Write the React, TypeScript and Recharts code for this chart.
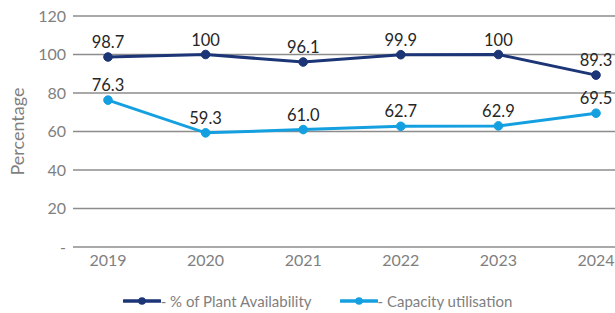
import React from 'react';
import { LineChart, Line, XAxis, YAxis, CartesianGrid, Legend, LabelList } from 'recharts';

const years = ['2019', '2020', '2021', '2022', '2023', '2024'];
const plantAvailability = [98.7, 100, 96.1, 99.9, 100, 89.3];
const capacityUtilisation = [76.3, 59.3, 61.0, 62.7, 62.9, 69.5];
const yTicks = [0, 20, 40, 60, 80, 100, 120];

const NAVY = '#1b3576';
const SKY = '#14a0e0';
const GREY = '#7f7f7f';
const FONT = 'Lato, "Open Sans", sans-serif';

const data = years.map((year, i) => ({
  year,
  availability: plantAvailability[i],
  capacity: capacityUtilisation[i],
}));

const legendItems = [
  { label: '- % of Plant Availability', color: NAVY },
  { label: '- Capacity utilisation', color: SKY },
];

const renderLegend = () => (
  <div style={{ display: 'flex', justifyContent: 'center', gap: 28, marginTop: 15, marginLeft: 20, fontFamily: FONT, fontSize: 15, color: GREY }}>
    {legendItems.map(item => (
      <div key={item.label} style={{ display: 'flex', alignItems: 'center' }}>
        <svg width={38} height={10}>
          <line x1={1} y1={5} x2={37} y2={5} stroke={item.color} strokeWidth={3.5} strokeLinecap="round" />
          <circle cx={19} cy={5} r={3.8} fill={item.color} />
        </svg>
        <span>{item.label}</span>
      </div>
    ))}
  </div>
);

const App: React.FC = () => (
  <div style={{ position: 'absolute', left: 0, top: 0, width: 615, height: 313, background: '#fff' }}>
    <LineChart width={615} height={313} data={data} margin={{ top: 16, right: 0, bottom: 0, left: 0 }}>
      <CartesianGrid vertical={false} stroke="#8c8c8c" strokeWidth={1.5} />
      <XAxis
        dataKey="year"
        axisLine={false}
        tickLine={false}
        tickSize={0}
        tickMargin={8}
        height={30}
        padding={{ left: 35, right: 19 }}
        tick={{ fill: GREY, fontSize: 16, fontFamily: FONT }}
        interval={0}
      />
      <YAxis
        domain={[0, 120]}
        ticks={yTicks}
        axisLine={false}
        tickLine={false}
        tickSize={0}
        tickMargin={7}
        width={73}
        tickFormatter={(v: number) => (v === 0 ? '-' : String(v))}
        tick={{ fill: GREY, fontSize: 16, fontFamily: FONT }}
        label={{ value: 'Percentage', angle: -90, position: 'insideLeft', offset: 18, fill: GREY, fontSize: 18, fontFamily: FONT, style: { textAnchor: 'middle' } }}
      />
      <Legend verticalAlign="bottom" height={36} content={renderLegend} />
      <Line
        dataKey="availability"
        stroke={NAVY}
        strokeWidth={3}
        dot={{ r: 4.3, fill: NAVY, stroke: NAVY, strokeWidth: 1 }}
        isAnimationActive={false}
      >
        <LabelList dataKey="availability" position="top" offset={9} fill="#262626" fontSize={16.5} fontFamily={FONT} />
      </Line>
      <Line
        dataKey="capacity"
        stroke={SKY}
        strokeWidth={3}
        dot={{ r: 4.3, fill: SKY, stroke: SKY, strokeWidth: 1 }}
        isAnimationActive={false}
      >
        <LabelList
          dataKey="capacity"
          position="top"
          offset={9}
          fill="#262626"
          fontSize={16.5}
          fontFamily={FONT}
          formatter={(v: number) => v.toFixed(1)}
        />
      </Line>
    </LineChart>
  </div>
);

export default App;
